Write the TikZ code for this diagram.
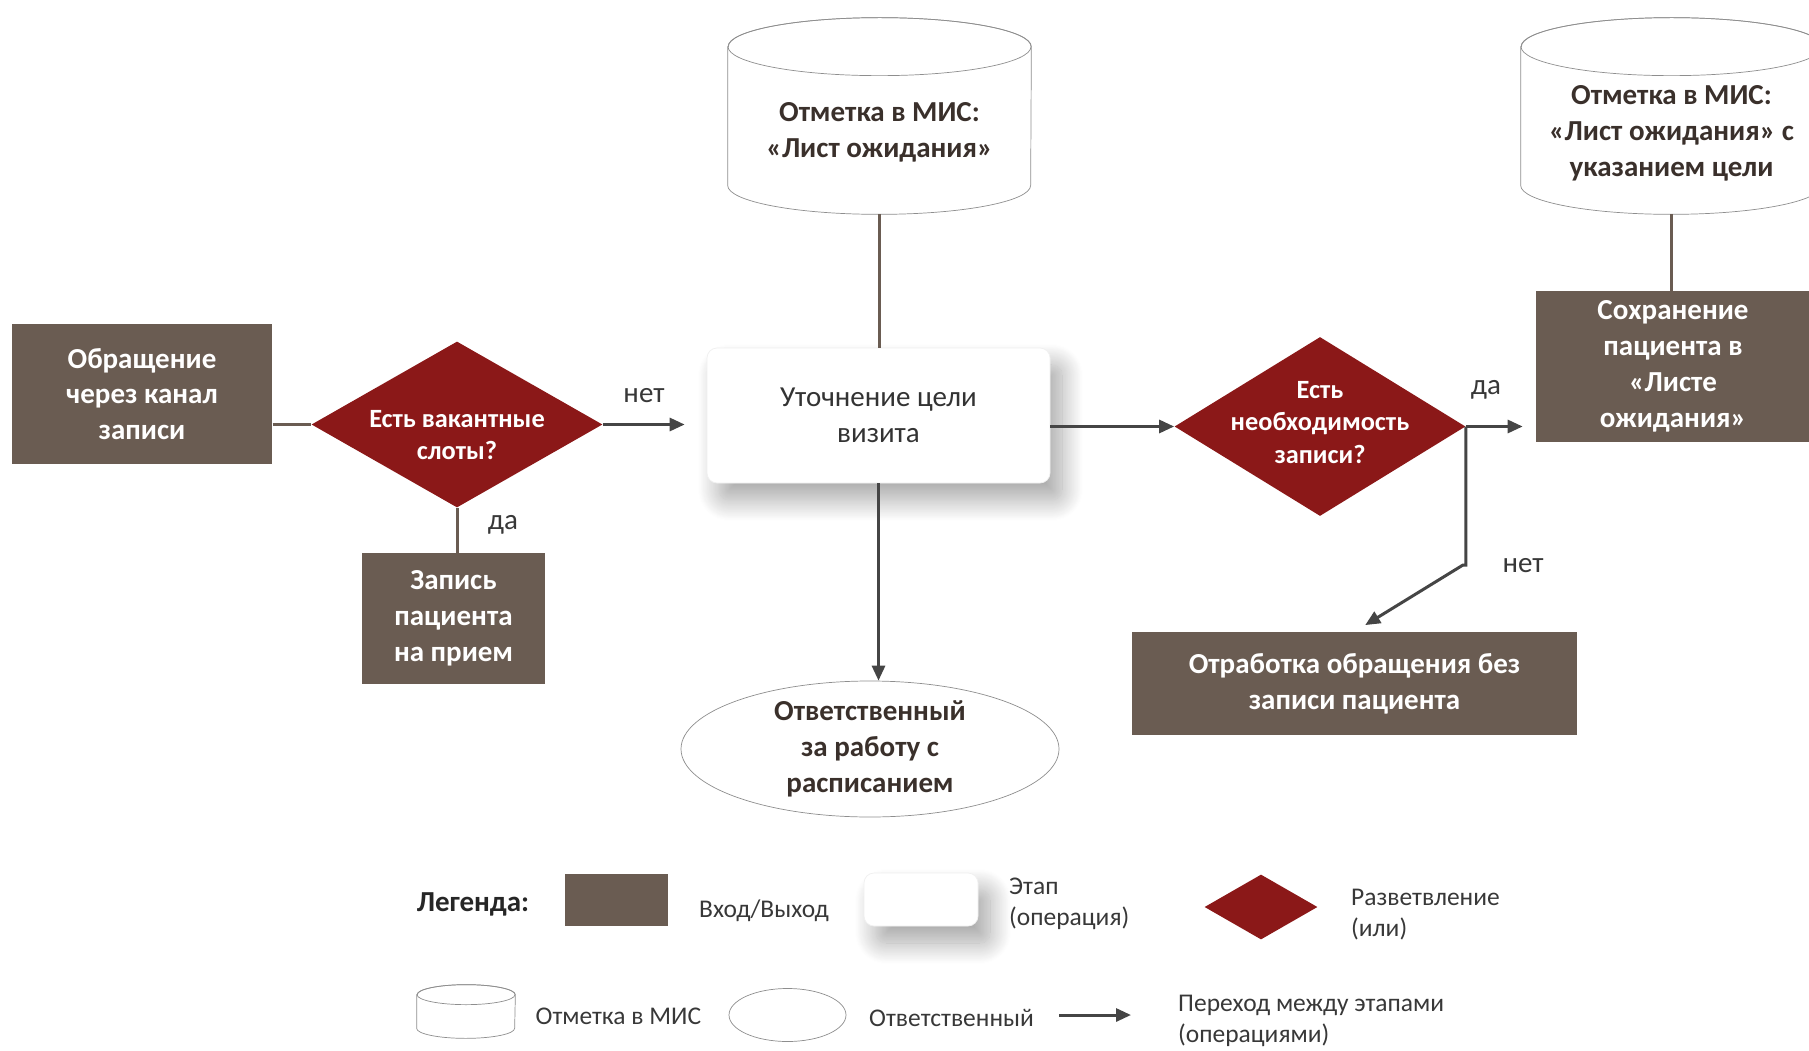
\documentclass[tikz,border=0pt]{standalone}
\usepackage{fontspec}
\setmainfont{Carlito}
\usetikzlibrary{positioning, arrows.meta, shapes.geometric, shadows.blur, calc}
\definecolor{umber}{HTML}{6A5C52}
\definecolor{wine}{HTML}{8B1818}
\definecolor{ink}{HTML}{3A302B}
\definecolor{graphite}{HTML}{454545}
\definecolor{rim}{HTML}{8E8E8E}

\begin{document}
\begin{tikzpicture}[
  font=\fontsize{16.5}{20.4}\selectfont,
  io/.style={fill=umber, text=white, font=\fontsize{16.5}{20.4}\selectfont\bfseries,
             align=center, inner sep=0pt},
  stage/.style={fill=white, draw=black!6, rounded corners=0.2cm, text=black!80,
                align=center, inner sep=0pt,
                blur shadow={shadow xshift=0.24cm, shadow yshift=-0.34cm,
                             shadow blur radius=0.42cm, shadow blur steps=25,
                             shadow opacity=35}},
  fork/.style={diamond, fill=wine, inner sep=0pt},
  forktxt/.style={text=white, font=\fontsize{15}{18.4}\selectfont\bfseries, align=center},
  mis/.style={inner sep=0pt},
  mistxt/.style={text=ink, font=\fontsize{16.5}{20.4}\selectfont\bfseries, align=center},
  resp/.style={ellipse, draw=rim, fill=white, text=ink,
               font=\fontsize{16.5}{20.4}\selectfont\bfseries, align=center, inner sep=0pt},
  lbl/.style={text=black!78, font=\fontsize{16.5}{20.4}\selectfont},
  leg/.style={text=black!78, font=\fontsize{14.5}{17.7}\selectfont, align=left},
  arr/.style={-{Triangle[length=0.3cm, width=0.26cm]}, draw=graphite, line width=0.06cm},
  link/.style={draw=umber, line width=0.06cm},
]
\useasboundingbox (0,0) rectangle (36.18,21);

% ─── MIS records (cylinders drawn round empty nodes) ───────────────────────
\node[mis, minimum width=6.06cm, minimum height=3.92cm] (mis1) at (17.59, 18.68) {};
\node[mis, minimum width=6.02cm, minimum height=3.92cm] (mis2) at (33.43, 18.68) {};
\node[mis, minimum width=1.96cm, minimum height=1.06cm] (legmis) at (9.32, 0.77) {};
\foreach \c/\rx/\ry in {mis1/3.03/0.58, mis2/3.01/0.58, legmis/0.98/0.2} {
  \draw[rim, fill=white] ($(\c.north west)+(0,-\ry)$) -- ($(\c.south west)+(0,\ry)$)
        arc[start angle=180, end angle=360, x radius=\rx, y radius=\ry]
        -- ($(\c.north east)+(0,-\ry)$)
        arc[start angle=0, end angle=180, x radius=\rx, y radius=\ry] -- cycle;
  \draw[rim] ($(\c.north)+(0,-\ry)$) ellipse[x radius=\rx, y radius=\ry];
}
\node[mistxt] (mis1txt) at ([yshift=-0.32cm]mis1.center)
      {Отметка в МИС:\\«Лист ожидания»};
\node[mistxt] (mis2txt) at ([yshift=-0.34cm]mis2.center)
      {Отметка в МИС:\\«Лист ожидания» с\\указанием цели};

% ─── main row ───────────────────────────────────────────────────────────────
\node[io, minimum width=5.21cm, minimum height=2.8cm] (inbox) at (2.84, 13.12)
      {Обращение\\через канал\\записи};
\node[fork, minimum width=5.82cm, minimum height=3.32cm,
      label={[forktxt, yshift=-0.21cm]center:Есть вакантные\\слоты?}] (slots)
      at (9.14, 12.51) {};
\node[io, minimum width=3.66cm, minimum height=2.62cm] (record) at (9.07, 8.63)
      {Запись\\пациента\\на прием};
\node[stage, minimum width=6.86cm, minimum height=2.7cm] (goal) at (17.57, 12.69)
      {Уточнение цели\\визита};
\node[resp, minimum width=7.56cm, minimum height=2.72cm] (owner) at (17.4, 6.02)
      {Ответственный\\за работу с\\расписанием};
\node[fork, minimum width=5.82cm, minimum height=3.58cm,
      label={[forktxt, yshift=0.08cm]center:Есть\\необходимость\\записи?}] (need)
      at (26.4, 12.47) {};
\node[io, minimum width=5.48cm, minimum height=3.02cm] (keep) at (33.46, 13.67)
      {Сохранение\\пациента в\\«Листе\\ожидания»};
\node[io, minimum width=8.9cm, minimum height=2.06cm] (noentry) at (27.09, 7.33)
      {Отработка обращения без\\записи пациента};

% ─── connectors ─────────────────────────────────────────────────────────────
\draw[link] (slots.west -| inbox.east) -- (slots.west);
\draw[link] (slots.south) -- (slots.south |- record.north);
\draw[arr, shorten >=0.44cm] (slots.east) -- (slots.east -| goal.west);
\draw[link] (mis1.south) -- (mis1.south |- goal.north);
\draw[arr] (goal.south) -- (goal.south |- owner.north);
\draw[arr] (need.west -| goal.east) -- (need.west);
\draw[arr, shorten >=0.26cm] (need.east) -- (need.east -| keep.west);
\draw[link] (mis2.south) -- (mis2.south |- keep.north);
\coordinate (bend) at (29.26, 9.7);
\draw[arr, shorten >=0.25cm] (need.east) -- (need.east |- bend) -- (bend)
      -- (noentry.north);

\node[lbl] (no1)  at (12.88, 13.08) {нет};
\node[lbl] (yes1) at (10.06, 10.5)  {да};
\node[lbl] (yes2) at (29.72, 13.2)  {да};
\node[lbl] (no2)  at (30.46, 9.68)  {нет};

% ─── legend ─────────────────────────────────────────────────────────────────
\node[text=black!85, font=\fontsize{16.5}{20.4}\selectfont\bfseries] (legtitle)
      at (9.46, 2.92) {Легенда:};
\node[io, minimum width=2.06cm, minimum height=1.03cm] (legio) at (12.33, 3.0) {};
\node[leg] (legiotxt) at (15.28, 2.78) {Вход/Выход};
\node[stage, minimum width=2.28cm, minimum height=1.06cm] (legstage)
      at (18.42, 3.01) {};
\node[leg, anchor=west] (legstagetxt) at (20.06, 2.92) {Этап\\(операция)};
\node[fork, minimum width=2.26cm, minimum height=1.3cm] (legfork) at (25.22, 2.86) {};
\node[leg, anchor=west] (legforktxt) at (26.9, 2.71) {Разветвление\\(или)};
\node[leg, anchor=west] (legmistxt) at (10.59, 0.68) {Отметка в МИС};
\node[resp, minimum width=2.34cm, minimum height=1.06cm] (legowner) at (15.75, 0.7) {};
\node[leg, anchor=west] (legownertxt) at (17.26, 0.65) {Ответственный};
\coordinate (legtail) at (21.18, 0.7);
\coordinate (leghead) at (22.62, 0.7);
\draw[arr] (legtail) -- (leghead);
\node[leg, anchor=west] (legarrtxt) at (23.44, 0.59) {Переход между этапами\\(операциями)};

\end{tikzpicture}
\end{document}
